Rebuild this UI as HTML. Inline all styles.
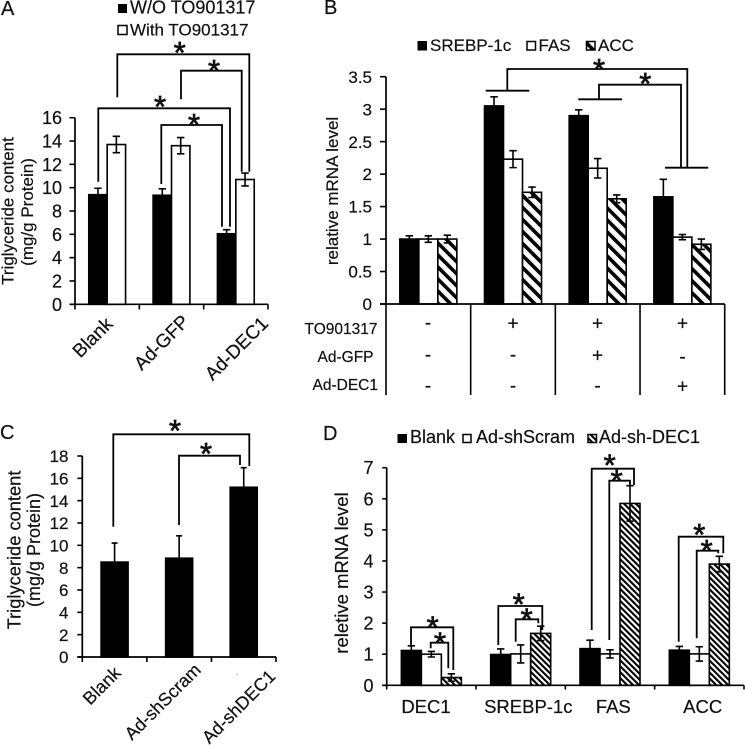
<!DOCTYPE html>
<html lang="en">
<head>
<meta charset="utf-8">
<title>Triglyceride and mRNA charts</title>
<style>
html,body{margin:0;padding:0;background:#fff;}
svg{display:block;filter:blur(0.35px);}
text{font-family:"Liberation Sans",sans-serif;fill:#111;stroke:#111;stroke-width:0.2px;}
.br{fill:none;stroke:#000;stroke-width:1.8;}
.star{font-size:31px;text-anchor:middle;stroke-width:0.7px;}
</style>
</head>
<body>
<svg id="figure" width="745" height="745" viewBox="0 0 745 745" xmlns="http://www.w3.org/2000/svg">
<defs>
<pattern id="hatchB" patternUnits="userSpaceOnUse" width="8.5" height="8.5" patternTransform="rotate(-45)"><rect width="8.5" height="8.5" fill="#fff"/><rect width="3.6" height="8.5" fill="#000"/></pattern>
<pattern id="hatchD" patternUnits="userSpaceOnUse" width="4.2" height="4.2" patternTransform="rotate(-45)"><rect width="4.2" height="4.2" fill="#fff"/><rect width="2.1" height="4.2" fill="#000"/></pattern>
</defs>
<rect width="745" height="745" fill="#fff"/>

<text x="1" y="15" font-size="20">A</text>
<text x="324" y="14" font-size="20">B</text>
<text x="0" y="439" font-size="20">C</text>
<text x="323" y="440" font-size="20">D</text>

<g>
<rect x="118" y="4" width="9" height="9" fill="#000"/>
<text x="130" y="13.5" font-size="18">W/O TO901317</text>
<rect x="118" y="25.5" width="9" height="9" fill="#fff" stroke="#000" stroke-width="1.5"/>
<text x="130" y="35.5" font-size="17">With TO901317</text>
</g>
<text transform="translate(13.5,211) rotate(-90)" text-anchor="middle" font-size="17">Triglyceride content</text>
<text transform="translate(33,212) rotate(-90)" text-anchor="middle" font-size="17">(mg/g Protein)</text>

<g>
<rect x="417.5" y="41" width="9.5" height="9.5" fill="#000"/>
<text x="430" y="51" font-size="17">SREBP-1c</text>
<rect x="527" y="41.5" width="8.5" height="8.5" fill="#fff" stroke="#000" stroke-width="1.5"/>
<text x="538.5" y="51" font-size="17">FAS</text>
<rect x="586.5" y="41.5" width="8.5" height="8.5" fill="url(#hatchB)" stroke="#000" stroke-width="1.5"/>
<text x="598" y="51" font-size="17">ACC</text>
</g>
<text transform="translate(338,191) rotate(-90)" text-anchor="middle" font-size="17">relative mRNA level</text>
<g font-size="15.5">
<text x="377.5" y="334" text-anchor="end">TO901317</text>
<text x="373.5" y="362" text-anchor="end">Ad-GFP</text>
<text x="378" y="390" text-anchor="end">Ad-DEC1</text>
<g text-anchor="middle" font-size="19">
<text x="428" y="329">-</text>
<text x="513" y="329.5">+</text>
<text x="597.5" y="329.5">+</text>
<text x="682.5" y="329.5">+</text>
<text x="428" y="361">-</text>
<text x="513" y="361">-</text>
<text x="597.5" y="361.5">+</text>
<text x="682.5" y="363">-</text>
<text x="428" y="392">-</text>
<text x="513" y="392">-</text>
<text x="597.5" y="392">-</text>
<text x="682.5" y="392.5">+</text>
</g>
</g>

<text transform="translate(20.5,550) rotate(-90)" text-anchor="middle" font-size="18.3">Triglyceride content</text>
<text transform="translate(40,550) rotate(-90)" text-anchor="middle" font-size="18">(mg/g Protein)</text>
<rect x="236.5" y="673" width="1" height="3" fill="#bbb"/>

<g>
<rect x="397.5" y="434" width="9.5" height="9" fill="#000"/>
<text x="410" y="443" font-size="18">Blank</text>
<rect x="463" y="434.5" width="8" height="8" fill="#fff" stroke="#000" stroke-width="1.5"/>
<text x="476" y="443" font-size="18">Ad-shScram</text>
<rect x="588" y="434.5" width="8.5" height="8" fill="url(#hatchD)" stroke="#000" stroke-width="1.5"/>
<text x="599" y="443" font-size="18">Ad-sh-DEC1</text>
</g>
<text transform="translate(348,573) rotate(-90)" text-anchor="middle" font-size="18.5">reletive mRNA level</text>

<g id="plots"></g>

<g>
<polyline class="br" points="117.3,97.3 117.3,54.3 249.3,54.3 249.3,171.7"/>
<polyline class="br" points="181,99.3 181,70.7 241.7,70.7 241.7,171.7"/>
<polyline class="br" points="98.3,181.7 98.3,108.3 230,108.3 230,226.7"/>
<polyline class="br" points="161.3,184 161.3,125 222,125 222,226.7"/>
<text class="star" x="179.7" y="63">*</text>
<text class="star" x="214" y="81">*</text>
<text class="star" x="160" y="117">*</text>
<text class="star" x="194" y="135">*</text>
</g>
<g>
<polyline class="br" points="507.3,90.7 507.3,69 687.3,69 687.3,167"/>
<polyline class="br" points="599,99.3 599,84.7 681,84.7 681,167"/>
<line class="br" x1="485.7" y1="90.7" x2="529.3" y2="90.7"/>
<line class="br" x1="578.3" y1="99.3" x2="622" y2="99.3"/>
<line class="br" x1="665" y1="167.7" x2="708.3" y2="167.7"/>
<text class="star" x="599" y="80">*</text>
<text class="star" x="645.3" y="94">*</text>
</g>
<g>
<polyline class="br" points="113.3,526.7 113.3,434.3 249.3,434.3 249.3,466"/>
<polyline class="br" points="179,525 179,455.7 240,455.7 240,465"/>
<text class="star" x="175" y="441">*</text>
<text class="star" x="206" y="464">*</text>
</g>
<g>
<polyline class="br" points="411,646.7 411,627.3 453.3,627.3 453.3,670"/>
<polyline class="br" points="430.7,648.3 430.7,642.7 448.3,642.7 448.3,668.3"/>
<polyline class="br" points="498.3,645 498.3,606 542.3,606 542.3,630"/>
<polyline class="br" points="515.7,641.7 515.7,619.3 538.3,619.3 538.3,623.3"/>
<polyline class="br" points="591.7,630 591.7,468.7 634,468.7 634,485"/>
<polyline class="br" points="609.3,640 609.3,480.7 630,480.7 630,485"/>
<polyline class="br" points="678.7,641.7 678.7,536.7 723.3,536.7 723.3,553.3"/>
<polyline class="br" points="696.7,638.3 696.7,550.7 718.3,550.7 718.3,553.3"/>
<text class="star" x="432.7" y="637.5">*</text>
<text class="star" x="440" y="653.5">*</text>
<text class="star" x="518.7" y="614.5">*</text>
<text class="star" x="526.7" y="629.5">*</text>
<text class="star" x="609.7" y="475.5">*</text>
<text class="star" x="616.7" y="491">*</text>
<text class="star" x="699.3" y="545">*</text>
<text class="star" x="706.7" y="561">*</text>
</g>
</svg>
<script>
// Panel A data
const aCategories = ['Blank', 'Ad-GFP', 'Ad-DEC1'];
const aTicks = ['0', '2', '4', '6', '8', '10', '12', '14', '16'];
const aWithout = [9.4, 9.35, 6.05];
const aWithoutErr = [0.55, 0.55, 0.35];
const aWith = [13.7, 13.6, 10.7];
const aWithErr = [0.7, 0.7, 0.55];

// Panel B data
const bCategories = ['Control', 'TO901317', 'TO901317 + Ad-GFP', 'TO901317 + Ad-DEC1'];
const bTicks = ['0', '0.5', '1', '1.5', '2', '2.5', '3', '3.5'];
const bSrebp = [1, 3.05, 2.9, 1.65];
const bSrebpErr = [0.05, 0.14, 0.09, 0.27];
const bFas = [1, 2.23, 2.09, 1.03];
const bFasErr = [0.05, 0.13, 0.15, 0.04];
const bAcc = [1, 1.72, 1.62, 0.92];
const bAccErr = [0.06, 0.08, 0.06, 0.08];

// Panel C data
const cCategories = ['Blank', 'Ad-shScram', 'Ad-shDEC1'];
const cTicks = ['0', '2', '4', '6', '8', '10', '12', '14', '16', '18'];
const cValues = [8.5, 8.85, 15.2];
const cErr = [1.7, 2.0, 1.75];

// Panel D data
const dCategories = ['DEC1', 'SREBP-1c', 'FAS', 'ACC'];
const dTicks = ['0', '1', '2', '3', '4', '5', '6', '7'];
const dBlank = [1.12, 0.99, 1.18, 1.13];
const dBlankErr = [0.15, 0.18, 0.27, 0.12];
const dScram = [1.0, 1.01, 1.01, 1.01];
const dScramErr = [0.09, 0.29, 0.13, 0.23];
const dShDec1 = [0.25, 1.67, 5.85, 3.9];
const dShDec1Err = [0.12, 0.23, 0.57, 0.25];

const SVG_NS = 'http://www.w3.org/2000/svg';
const plots = document.getElementById('plots');

function addEl(parent, tag, attrs, name) {
  const el = document.createElementNS(SVG_NS, tag);
  for (const key in attrs) el.setAttribute(key, attrs[key]);
  
  
  parent.appendChild(el);
  return el;
}

function drawChart(cfg) {
  const g = addEl(plots, 'g', {}, cfg.id + '-chart');
  const maxVal = Number(cfg.ticks[cfg.ticks.length - 1]);
  const yScale = function (v) { return cfg.y0 - (v / maxVal) * (cfg.y0 - cfg.yTop); };
  const band = (cfg.xEnd - cfg.x0) / cfg.categories.length;
  const xCenter = function (i) { return cfg.x0 + band * (i + 0.5); };
  const groupW = cfg.barW * cfg.series.length;

  cfg.series.forEach(function (s, si) {
    s.values.forEach(function (v, i) {
      const left = xCenter(i) - groupW / 2 + si * cfg.barW;
      const cx = left + cfg.barW / 2;
      addEl(g, 'rect', {
        x: left, y: yScale(v), width: cfg.barW, height: cfg.y0 - yScale(v),
        fill: s.fill, stroke: '#000', 'stroke-width': 1.6
      }, cfg.id + '-bar-' + s.name + '-' + i);
      const top = yScale(v + s.err[i]);
      const bottom = yScale(v - s.err[i]);
      addEl(g, 'path', {
        d: 'M' + (cx - cfg.cap) + ' ' + top + 'H' + (cx + cfg.cap) +
           'M' + cx + ' ' + top + 'V' + bottom +
           'M' + (cx - cfg.cap) + ' ' + bottom + 'H' + (cx + cfg.cap),
        fill: 'none', stroke: '#000', 'stroke-width': 1.6
      }, cfg.id + '-error-' + s.name + '-' + i);
    });
  });

  addEl(g, 'line', { x1: cfg.x0, y1: cfg.yTop, x2: cfg.x0, y2: cfg.y0, stroke: '#000', 'stroke-width': 1.7 }, cfg.id + '-y-axis');
  addEl(g, 'line', { x1: cfg.x0 - cfg.tickLen, y1: cfg.y0, x2: cfg.xEnd, y2: cfg.y0, stroke: '#000', 'stroke-width': 1.7 }, cfg.id + '-x-axis');

  cfg.ticks.forEach(function (t) {
    const y = yScale(Number(t));
    addEl(g, 'line', { x1: cfg.x0 - cfg.tickLen, y1: y, x2: cfg.x0, y2: y, stroke: '#000', 'stroke-width': 1.6 }, cfg.id + '-y-tick');
    const label = addEl(g, 'text', {
      x: cfg.labelRight, y: y + cfg.tickFont * 0.36, 'text-anchor': 'end', 'font-size': cfg.tickFont
    }, cfg.id + '-y-tick-label');
    label.textContent = t;
  });

  for (let i = 0; i <= cfg.categories.length; i++) {
    const x = cfg.x0 + band * i;
    addEl(g, 'line', { x1: x, y1: cfg.y0, x2: x, y2: cfg.xTickBottom, stroke: '#000', 'stroke-width': 1.6 }, cfg.id + '-x-tick');
  }

  if (cfg.labelPos) {
    cfg.categories.forEach(function (c, i) {
      const p = cfg.labelPos[i];
      const attrs = { 'text-anchor': 'middle', 'font-size': cfg.catFont };
      if (cfg.rotate) {
        attrs.transform = 'translate(' + p[0] + ',' + p[1] + ') rotate(-45)';
      } else {
        attrs.x = p[0];
        attrs.y = p[1];
      }
      const label = addEl(g, 'text', attrs, cfg.id + '-x-label');
      label.textContent = c;
    });
  }
}

drawChart({
  id: 'panel-a', categories: aCategories, ticks: aTicks,
  series: [
    { name: 'without', values: aWithout, err: aWithoutErr, fill: '#000' },
    { name: 'with', values: aWith, err: aWithErr, fill: '#fff' }
  ],
  x0: 75, xEnd: 268, y0: 304.3, yTop: 117.7, barW: 18.4, cap: 3.7, tickLen: 5.5,
  xTickBottom: 309.5, labelRight: 62, tickFont: 18, catFont: 19, rotate: true,
  labelPos: [[97, 342], [166, 347], [241, 353]]
});

drawChart({
  id: 'panel-b', categories: bCategories, ticks: bTicks,
  series: [
    { name: 'srebp', values: bSrebp, err: bSrebpErr, fill: '#000' },
    { name: 'fas', values: bFas, err: bFasErr, fill: '#fff' },
    { name: 'acc', values: bAcc, err: bAccErr, fill: 'url(#hatchB)' }
  ],
  x0: 386, xEnd: 724.7, y0: 304, yTop: 76.7, barW: 19, cap: 3.7, tickLen: 6,
  xTickBottom: 395, labelRight: 372, tickFont: 17
});

drawChart({
  id: 'panel-c', categories: cCategories, ticks: cTicks,
  series: [
    { name: 'triglyceride', values: cValues, err: cErr, fill: '#000' }
  ],
  x0: 82.3, xEnd: 276, y0: 657, yTop: 456, barW: 27, cap: 3, tickLen: 5,
  xTickBottom: 662, labelRight: 68.5, tickFont: 17, catFont: 18, rotate: true,
  labelPos: [[106, 690], [167, 706], [243, 711]]
});

drawChart({
  id: 'panel-d', categories: dCategories, ticks: dTicks,
  series: [
    { name: 'blank', values: dBlank, err: dBlankErr, fill: '#000' },
    { name: 'scram', values: dScram, err: dScramErr, fill: '#fff' },
    { name: 'shdec1', values: dShDec1, err: dShDec1Err, fill: 'url(#hatchD)' }
  ],
  x0: 386.7, xEnd: 744, y0: 685.3, yTop: 467.7, barW: 20, cap: 3.7, tickLen: 4.5,
  xTickBottom: 689.5, labelRight: 373.5, tickFont: 18, catFont: 18.5,
  labelPos: [[426, 713], [528.3, 713], [613.3, 713], [702.7, 713]]
});
</script>
</body>
</html>
